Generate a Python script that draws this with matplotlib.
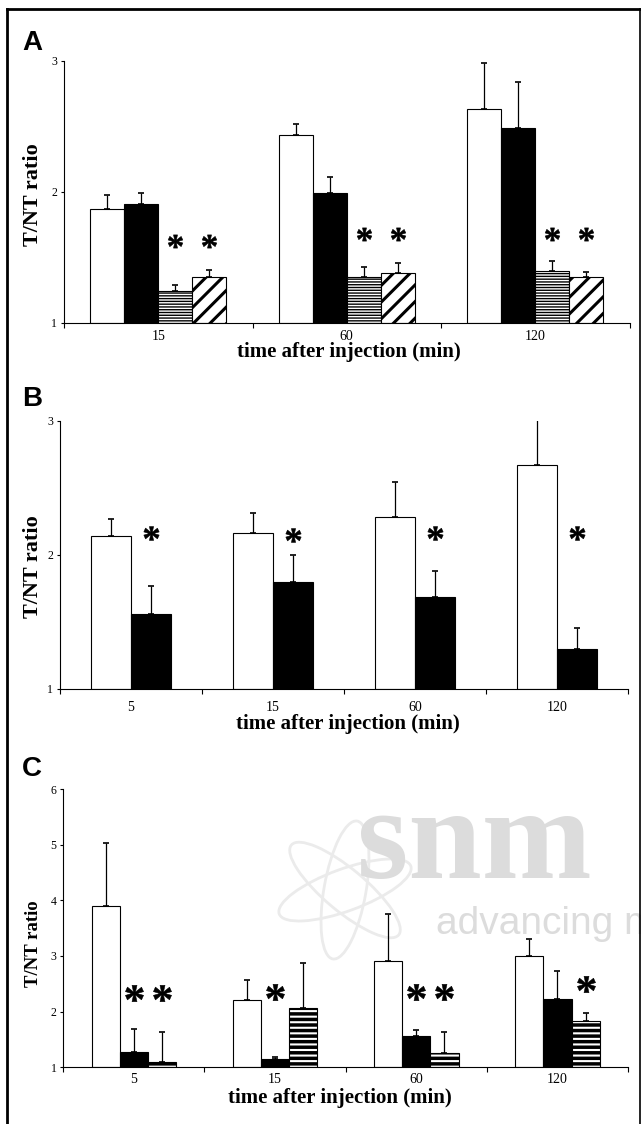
import matplotlib
matplotlib.use("Agg")
import matplotlib.pyplot as plt
import numpy as np
from matplotlib.textpath import TextPath
from matplotlib.font_manager import FontProperties
from matplotlib.path import Path
from matplotlib.lines import Line2D
from matplotlib.patches import Ellipse
from matplotlib.transforms import IdentityTransform

# ---------------- data ----------------
A_times = ['15', '60', '120']
A_ctrl = [1.865, 2.433, 2.629]
A_ctrl_err = [0.112, 0.082, 0.356]
A_blk = [1.905, 1.992, 2.484]
A_blk_err = [0.085, 0.123, 0.356]
A_hor = [1.242, 1.351, 1.397]
A_hor_err = [0.046, 0.076, 0.076]
A_dia = [1.346, 1.382, 1.347]
A_dia_err = [0.056, 0.076, 0.038]
A_stars = [(0, 2, 1.62), (0, 3, 1.62), (1, 2, 1.68), (1, 3, 1.68), (2, 2, 1.68), (2, 3, 1.68)]

B_times = ['5', '15', '60', '120']
B_ctrl = [2.139, 2.164, 2.279, 2.672]
B_ctrl_err = [0.125, 0.144, 0.261, 0.330]
B_blk = [1.555, 1.799, 1.682, 1.296]
B_blk_err = [0.214, 0.199, 0.199, 0.159]
B_stars = [(0, 1, 2.16), (1, 1, 2.15), (2, 1, 2.16), (3, 1, 2.16)]

C_times = ['5', '15', '60', '120']
C_ctrl = [3.892, 2.204, 2.916, 2.994]
C_ctrl_err = [1.144, 0.365, 0.833, 0.305]
C_blk = [1.269, 1.144, 1.563, 2.222]
C_blk_err = [0.420, 0.042, 0.102, 0.515]
C_hor = [1.102, 2.060, 1.257, 1.832]
C_hor_err = [0.533, 0.820, 0.384, 0.138]
C_stars = [(0, 1, 2.33), (0, 2, 2.33), (1, 1, 2.36), (2, 1, 2.36), (2, 2, 2.36), (3, 2, 2.50)]

XLABEL = 'time after injection (min)'
YLABEL = 'T/NT ratio'

# ---------------- figure ----------------
W, H = 641, 1124
fig = plt.figure(figsize=(W / 100, H / 100), dpi=100)
fig.patch.set_facecolor('white')

SERIF = 'Liberation Serif'
SANS = 'Liberation Sans'


def ax_at(l, r, t, b):
    return fig.add_axes([l / W, 1 - b / H, (r - l) / W, (b - t) / H])


def fx(x):
    return x / W


def fy(y):
    return 1 - y / H


# asterisk marker from a bold serif glyph, centred on its ink
_tp = TextPath((0, 0), '*', size=10, prop=FontProperties(family=SERIF, weight='bold'))
_polys = _tp.to_polygons()
_allv = np.vstack(_polys)
_c = (_allv.min(axis=0) + _allv.max(axis=0)) / 2
STAR = Path.make_compound_path(*[Path(p - _c, closed=True) for p in _polys])

STYLES = {
    'white': dict(fc='white', hatch=None, hlw=None),
    'black': dict(fc='black', hatch=None, hlw=None),
    'hfine': dict(fc='white', hatch='------', hlw=1.0),
    'diag': dict(fc='white', hatch='//', hlw=2.2),
    'hbold': dict(fc='white', hatch='---', hlw=2.5),
}


def panel(ax, times, series, errs, styles, width, ymax, yticks, stars, star_ms, tickpad):
    n = len(times)
    k = len(series)
    x = np.arange(n)
    centers = []
    for j, (vals, e, sname) in enumerate(zip(series, errs, styles)):
        st = STYLES[sname]
        off = (j - (k - 1) / 2) * width
        vals = np.asarray(vals)
        rc = {'hatch.linewidth': st['hlw']} if st['hlw'] else {}
        with plt.rc_context(rc):
            bars = ax.bar(x + off, vals - 1, width, bottom=1, color=st['fc'],
                          edgecolor='black', linewidth=0.8, hatch=st['hatch'], zorder=2)
        if st['hlw']:
            for b in bars:
                if hasattr(b, 'set_hatch_linewidth'):
                    b.set_hatch_linewidth(st['hlw'])
        ax.errorbar(x + off, vals, yerr=[np.zeros(n), np.asarray(e)], fmt='none',
                    ecolor='black', elinewidth=0.9, capsize=2, capthick=1.2, zorder=3)
        centers.append(x + off)
    for (ti, si, yv) in stars:
        ax.plot([centers[si][ti]], [yv], ls='none', marker=STAR, ms=star_ms,
                color='black', mec='black', mew=0.4, zorder=4)
    ax.set_xlim(-0.5, n - 0.5)
    ax.set_ylim(1, ymax)
    for s in ('top', 'right'):
        ax.spines[s].set_visible(False)
    for s in ('left', 'bottom'):
        ax.spines[s].set_linewidth(0.8)
    ax.set_xticks(np.arange(n + 1) - 0.5)
    ax.set_xticklabels([])
    ax.set_xticks(x, minor=True)
    ax.set_xticklabels(times, minor=True, fontfamily=SERIF, fontsize=10)
    ax.tick_params(axis='x', which='major', direction='out', length=3.4, width=0.8)
    ax.tick_params(axis='x', which='minor', length=0, pad=tickpad)
    ax.set_yticks(yticks)
    ax.set_yticklabels([str(v) for v in yticks], fontfamily=SERIF, fontsize=8.5)
    ax.tick_params(axis='y', direction='out', length=2.5, width=0.8, pad=2.5)
    ax.patch.set_alpha(0)


# ---- Panel A ----
axA = ax_at(64, 629.5, 60.7, 322.7)
panel(axA, A_times, [A_ctrl, A_blk, A_hor, A_dia], [A_ctrl_err, A_blk_err, A_hor_err, A_dia_err],
      ['white', 'black', 'hfine', 'diag'], 0.181, 3, [1, 2, 3], A_stars, 10.5, 5.5)

# ---- Panel B ----
axB = ax_at(60, 628, 420.7, 688.7)
panel(axB, B_times, [B_ctrl, B_blk], [B_ctrl_err, B_blk_err],
      ['white', 'black'], 0.283, 3, [1, 2, 3], B_stars, 11, 8.9)

# ---- Panel C ----
axC = ax_at(63.3, 628, 789, 1067.3)
panel(axC, C_times, [C_ctrl, C_blk, C_hor], [C_ctrl_err, C_blk_err, C_hor_err],
      ['white', 'black', 'hbold'], 0.20, 6, [1, 2, 3, 4, 5, 6], C_stars, 13, 4.0)

# ---- labels ----
for (lab, bx, by) in [('A', 22, 50), ('B', 22, 406), ('C', 22, 776)]:
    fig.text(fx(bx), fy(by), lab, fontfamily=SANS, fontweight='bold', fontsize=20,
             ha='left', va='baseline')

for (cx, by) in [(349, 357.5), (348, 728.5), (340, 1102.5)]:
    fig.text(fx(cx), fy(by), XLABEL, fontfamily=SERIF, fontweight='bold', fontsize=15,
             ha='center', va='baseline')

for (cx, cy, fs) in [(33, 195, 16), (33, 567, 16), (34, 944, 13.5)]:
    fig.text(fx(cx), fy(cy), YLABEL, fontfamily=SERIF, fontweight='bold', fontsize=fs,
             rotation=90, ha='center', va='center')

# ---- faint watermark in panel C ----
wm = '#dcdcdc'
for ang in (20, 80, 140):
    fig.add_artist(Ellipse((345, H - 890), 140, 42, angle=ang, fill=False,
                           edgecolor='#ebebeb', linewidth=2.0, transform=IdentityTransform(),
                           zorder=-2))
fig.text(fx(357), fy(878), 'snm', fontfamily=SERIF, fontweight='bold', fontsize=95,
         color=wm, ha='left', va='baseline', zorder=-1)
fig.text(fx(436), fy(934), 'advancing m', fontfamily=SANS, fontsize=28,
         color=wm, ha='left', va='baseline', zorder=-1)

# ---- frame ----
lw_frame = 2.0
fig.add_artist(Line2D([fx(7), fx(7)], [fy(9), fy(H + 5)], color='black', lw=lw_frame))
fig.add_artist(Line2D([fx(7), fx(641)], [fy(9), fy(9)], color='black', lw=lw_frame))
fig.add_artist(Line2D([fx(640), fx(640)], [fy(9), fy(H + 5)], color='black', lw=1.2))

fig.savefig('out.png', dpi=100, facecolor='white')
